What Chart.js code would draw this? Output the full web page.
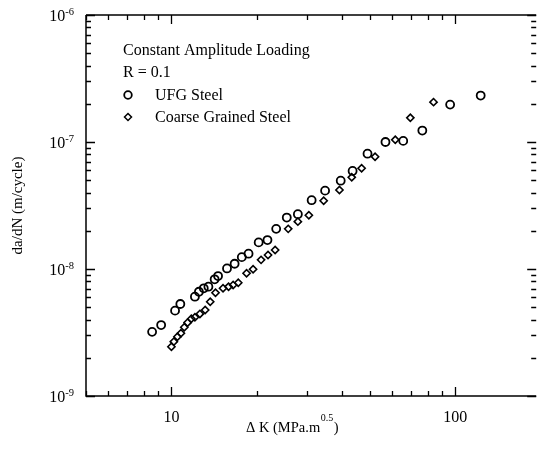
<!DOCTYPE html>
<html><head><meta charset="utf-8">
<script src="https://cdn.jsdelivr.net/npm/chart.js@4.4.1/dist/chart.umd.min.js"></script>
<style>html,body{margin:0;padding:0;background:#fff}canvas{display:block}</style>
</head><body>
<canvas id="c" width="542" height="451"></canvas>
<script>
// ---- data ----
const ufgDeltaK = [8.55, 9.2, 10.3, 10.75, 12.1, 12.5, 13.0, 13.5, 14.2, 14.6, 15.7, 16.7, 17.7, 18.7, 20.3, 21.8, 23.4, 25.5, 27.9, 31.2, 34.8, 39.5, 43.5, 49.1, 56.8, 65.6, 76.6, 96, 123];
const ufgRate = [3.2e-9, 3.62e-9, 4.7e-9, 5.3e-9, 6.05e-9, 6.62e-9, 7.05e-9, 7.26e-9, 8.3e-9, 8.8e-9, 1.01e-8, 1.1e-8, 1.24e-8, 1.32e-8, 1.62e-8, 1.69e-8, 2.07e-8, 2.54e-8, 2.70e-8, 3.48e-8, 4.14e-8, 4.96e-8, 5.92e-8, 8.09e-8, 1.0e-7, 1.02e-7, 1.23e-7, 1.97e-7, 2.32e-7];
const coarseDeltaK = [10.0, 10.2, 10.5, 10.8, 11.1, 11.4, 11.75, 12.1, 12.6, 13.15, 13.7, 14.3, 15.2, 15.9, 16.5, 17.2, 18.4, 19.4, 20.7, 21.9, 23.2, 25.8, 27.9, 30.5, 34.4, 39.1, 43.2, 46.8, 52.2, 61.5, 69.5, 83.9];
const coarseRate = [2.44e-9, 2.68e-9, 2.93e-9, 3.12e-9, 3.48e-9, 3.78e-9, 4.06e-9, 4.17e-9, 4.43e-9, 4.76e-9, 5.52e-9, 6.5e-9, 7.05e-9, 7.26e-9, 7.48e-9, 7.8e-9, 9.25e-9, 9.95e-9, 1.18e-8, 1.29e-8, 1.41e-8, 2.07e-8, 2.36e-8, 2.65e-8, 3.45e-8, 4.19e-8, 5.27e-8, 6.21e-8, 7.66e-8, 1.04e-7, 1.55e-7, 2.06e-7];
const seriesNames = ['UFG Steel', 'Coarse Grained Steel'];
const legendHeader = ['Constant Amplitude Loading', 'R = 0.1'];
const xMajorTicks = [10, 100];
const xMinorTicks = [5, 6, 7, 8, 9, 20, 30, 40, 50, 60, 70, 80, 90];
const yMajorExponents = [-9, -8, -7, -6];
const yMinorMultipliers = [2, 3, 4, 5, 6, 7, 8, 9];
const xRange = [5, 193];
const yRange = [1e-9, 1e-6];
const xTitle = ['\u0394 K (MPa.m', '0.5', ')'];
const yTitle = 'da/dN (m/cycle)';

const toPts = (xs, ys) => xs.map((x, i) => ({x, y: ys[i]}));
const SERIF = '"Liberation Serif", "Times New Roman", serif';

const axesPlugin = {
  id: 'axesPlugin',
  afterDraw(chart) {
    const ctx = chart.ctx;
    const xs = chart.scales.x, ys = chart.scales.y;
    const a = chart.chartArea;
    ctx.save();
    ctx.strokeStyle = '#000';
    ctx.fillStyle = '#000';
    ctx.lineWidth = 1.5;
    // frame: left, bottom, top
    ctx.beginPath();
    ctx.moveTo(a.left, a.top); ctx.lineTo(a.left, a.bottom); ctx.lineTo(a.right, a.bottom);
    ctx.moveTo(a.left, a.top); ctx.lineTo(a.right, a.top);
    ctx.stroke();
    ctx.lineWidth = 1.3;
    const xTick = (v, len) => {
      const px = Math.round(xs.getPixelForValue(v)) + 0.5;
      ctx.beginPath();
      ctx.moveTo(px, a.bottom); ctx.lineTo(px, a.bottom - len);
      ctx.moveTo(px, a.top); ctx.lineTo(px, a.top + len);
      ctx.stroke();
    };
    xMajorTicks.forEach(v => xTick(v, 9));
    xMinorTicks.forEach(v => xTick(v, 5));
    const yTick = (v, len) => {
      const py = Math.round(ys.getPixelForValue(v)) + 0.5;
      ctx.beginPath();
      ctx.moveTo(a.left, py); ctx.lineTo(a.left + len, py);
      ctx.moveTo(a.right, py); ctx.lineTo(a.right - len, py);
      ctx.stroke();
    };
    yMajorExponents.forEach(e => {
      yTick(Math.pow(10, e), 9);
      if (e < -6) yMinorMultipliers.forEach(m => yTick(m * Math.pow(10, e), 5));
    });
    // y labels 10^e
    yMajorExponents.forEach(e => {
      const py = ys.getPixelForValue(Math.pow(10, e));
      ctx.font = '10.5px ' + SERIF;
      const ew = ctx.measureText(String(e)).width;
      ctx.font = '16px ' + SERIF;
      const bw = ctx.measureText('10').width;
      const right = 74;
      ctx.textAlign = 'left'; ctx.textBaseline = 'alphabetic';
      ctx.fillText('10', right - ew - bw, py + 6);
      ctx.font = '10.5px ' + SERIF;
      ctx.fillText(String(e), right - ew, py);
    });
    // x labels
    ctx.font = '16px ' + SERIF;
    ctx.textAlign = 'center';
    xMajorTicks.forEach(v => {
      ctx.fillText(String(v), xs.getPixelForValue(v), 422);
    });
    // x title
    ctx.textAlign = 'left';
    ctx.font = '14.5px ' + SERIF;
    let tx = 246;
    ctx.fillText(xTitle[0], tx, 432);
    tx += ctx.measureText(xTitle[0]).width + 0.5;
    ctx.font = '10px ' + SERIF;
    ctx.fillText(xTitle[1], tx, 421);
    tx += ctx.measureText(xTitle[1]).width + 0.5;
    ctx.font = '14.5px ' + SERIF;
    ctx.fillText(xTitle[2], tx, 432);
    // y title
    ctx.save();
    ctx.translate(22, (a.top + a.bottom) / 2);
    ctx.rotate(-Math.PI / 2);
    ctx.textAlign = 'center';
    ctx.font = '15px ' + SERIF;
    ctx.fillText(yTitle, 0, 0);
    ctx.restore();
    // legend
    ctx.font = '16px ' + SERIF;
    ctx.textAlign = 'left';
    ctx.fillText(legendHeader[0], 123, 55);
    ctx.fillText(legendHeader[1], 123, 77);
    ctx.fillText(seriesNames[0], 155, 100);
    ctx.fillText(seriesNames[1], 155, 122);
    ctx.lineWidth = 1.8;
    ctx.beginPath(); ctx.arc(128, 95, 3.8, 0, Math.PI * 2); ctx.stroke();
    ctx.lineWidth = 1.5;
    ctx.beginPath();
    ctx.moveTo(128, 113.5); ctx.lineTo(131.5, 117); ctx.lineTo(128, 120.5); ctx.lineTo(124.5, 117); ctx.closePath();
    ctx.stroke();
    ctx.restore();
  }
};

new Chart(document.getElementById('c'), {
  type: 'scatter',
  data: {
    datasets: [
      { label: seriesNames[0], data: toPts(ufgDeltaK, ufgRate), pointStyle: 'circle', pointRadius: 4, borderWidth: 1.8, borderColor: '#000', backgroundColor: 'rgba(255,255,255,0)' },
      { label: seriesNames[1], data: toPts(coarseDeltaK, coarseRate), pointStyle: 'rectRot', pointRadius: 3.6, borderWidth: 1.6, borderColor: '#000', backgroundColor: 'rgba(255,255,255,0)' }
    ]
  },
  options: {
    responsive: false,
    animation: false,
    devicePixelRatio: 1,
    layout: { padding: { left: 86, top: 15, right: 2, bottom: 55 } },
    plugins: { legend: { display: false }, tooltip: { enabled: false } },
    scales: {
      x: { type: 'logarithmic', min: xRange[0], max: xRange[1], display: false },
      y: { type: 'logarithmic', min: yRange[0], max: yRange[1], display: false }
    }
  },
  plugins: [axesPlugin]
});
</script>
</body></html>
